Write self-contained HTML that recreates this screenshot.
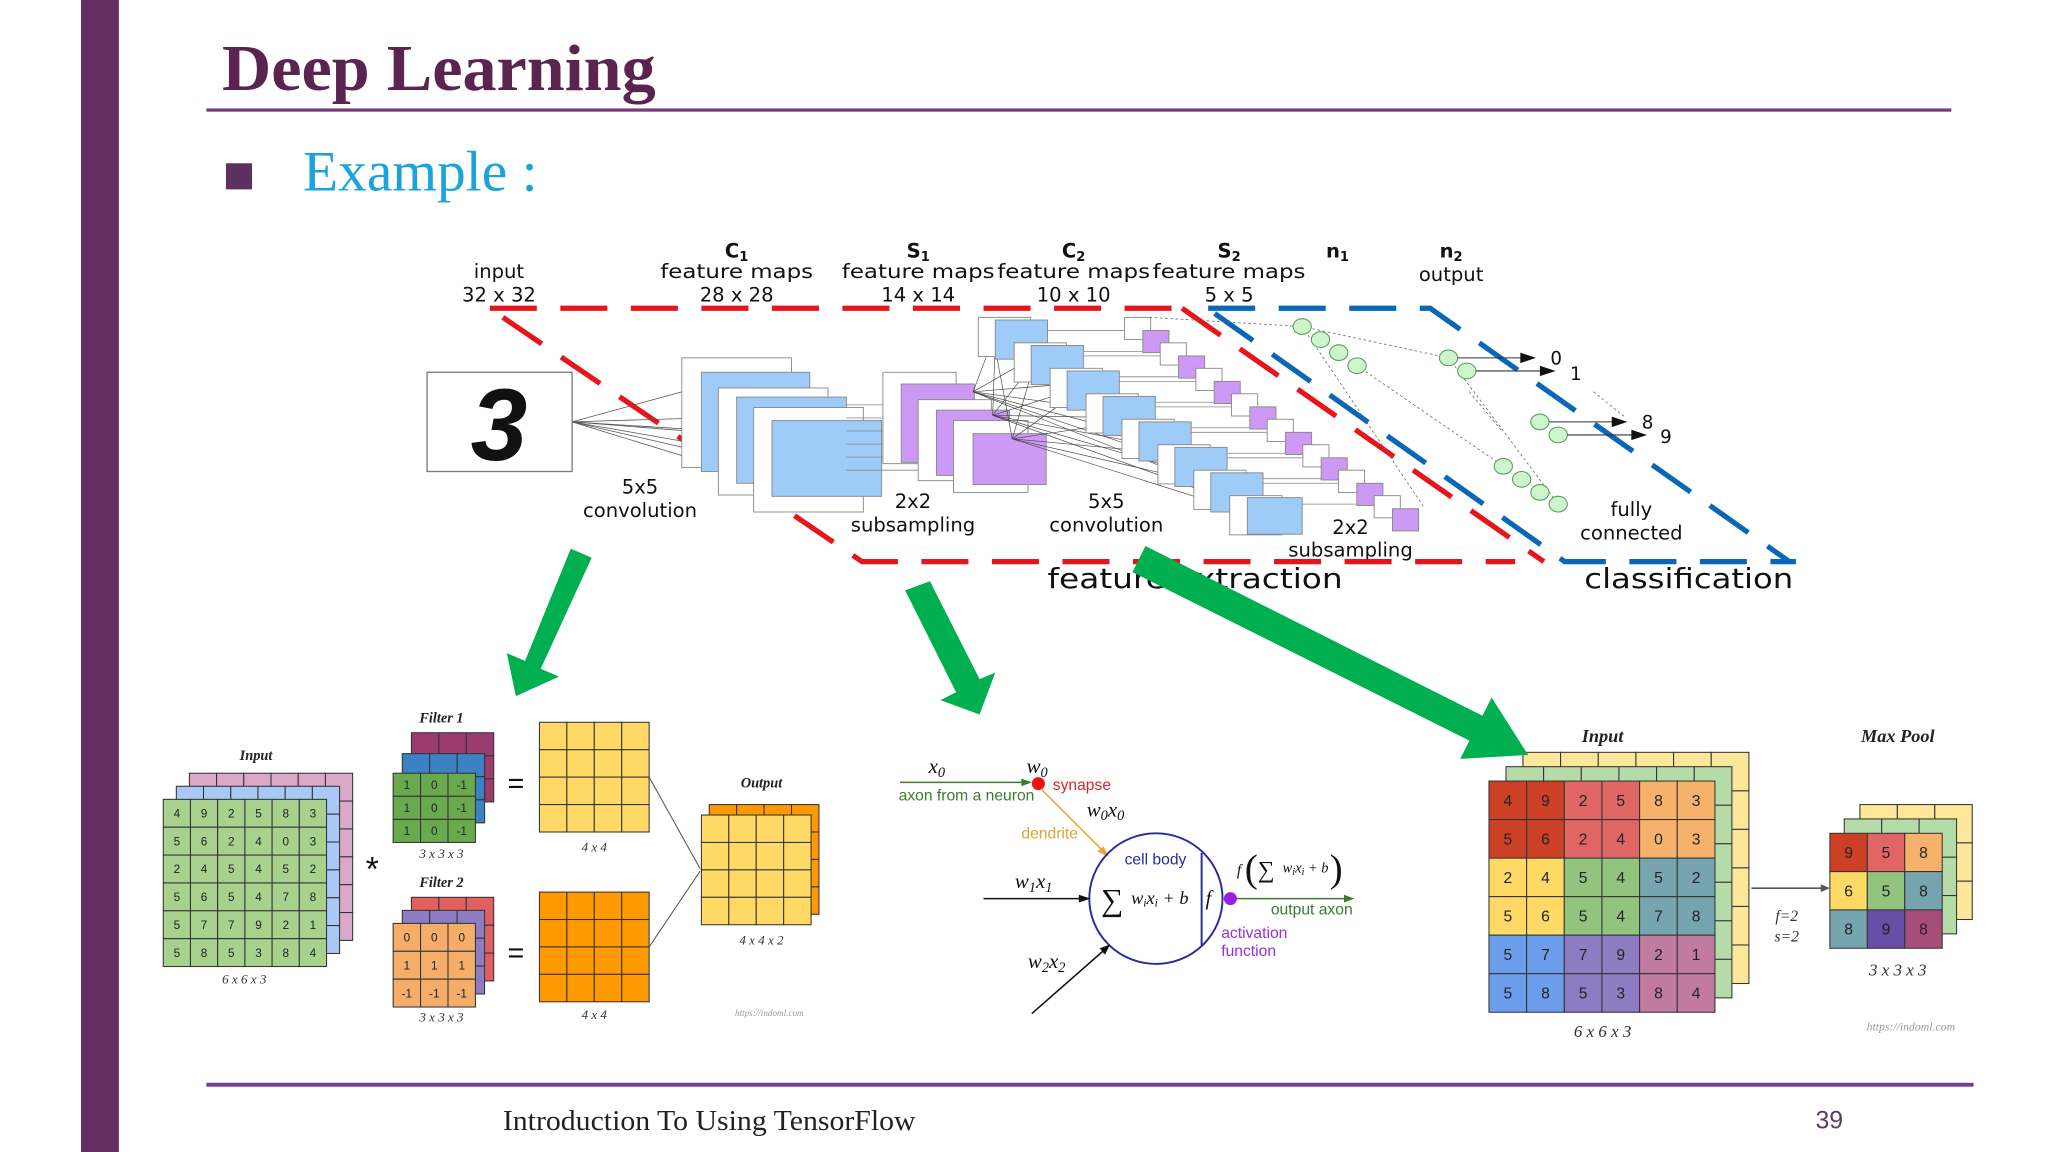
<!DOCTYPE html>
<html><head><meta charset="utf-8"><style>
html,body{margin:0;padding:0;background:#fff;width:2048px;height:1152px;overflow:hidden}
svg{display:block}
.s{font-family:"DejaVu Sans","Liberation Sans",sans-serif}
.it{font-family:"Liberation Serif",serif;font-style:italic}
.lb{font-family:"Liberation Sans",sans-serif}
</style></head><body>
<svg id="g" xmlns="http://www.w3.org/2000/svg" width="2048" height="1152" viewBox="0 0 1568 882">
<rect x="0" y="0" width="1568" height="882" fill="#fff"/>
<rect x="62" y="0" width="29" height="882" fill="#632e62"/>
<text x="170" y="69" font-family="Liberation Serif,serif" font-weight="bold" font-size="50" fill="#5a2350" textLength="332" lengthAdjust="spacingAndGlyphs">Deep Learning</text>
<rect x="158" y="83" width="1336" height="2.5" fill="#7b3a7a"/>
<rect x="173" y="125" width="20" height="20" fill="#5e3060"/>
<text x="232" y="146" font-family="Liberation Serif,serif" font-size="44" fill="#1aa3dc">Example :</text>
<rect x="158" y="829" width="1353" height="3" fill="#7a3a98"/>
<text x="385" y="865" font-family="Liberation Serif,serif" font-size="22" fill="#222" textLength="316" lengthAdjust="spacingAndGlyphs">Introduction To Using TensorFlow</text>
<text x="1390" y="864" font-family="Liberation Sans,sans-serif" font-size="19" fill="#5b3a6a">39</text>

<!-- CNN labels -->
<g class="s" font-size="15" fill="#111" text-anchor="middle">
<text x="382" y="213">input</text><text x="382" y="231">32 x 32</text>
<text x="564" y="197" font-weight="bold">C<tspan font-size="10" dy="3">1</tspan></text><text x="564" y="213" textLength="117" lengthAdjust="spacingAndGlyphs">feature maps</text><text x="564" y="231">28 x 28</text>
<text x="703" y="197" font-weight="bold">S<tspan font-size="10" dy="3">1</tspan></text><text x="703" y="213" textLength="117" lengthAdjust="spacingAndGlyphs">feature maps</text><text x="703" y="231">14 x 14</text>
<text x="822" y="197" font-weight="bold">C<tspan font-size="10" dy="3">2</tspan></text><text x="822" y="213" textLength="117" lengthAdjust="spacingAndGlyphs">feature maps</text><text x="822" y="231">10 x 10</text>
<text x="941" y="197" font-weight="bold">S<tspan font-size="10" dy="3">2</tspan></text><text x="941" y="213" textLength="117" lengthAdjust="spacingAndGlyphs">feature maps</text><text x="941" y="231">5 x 5</text>
<text x="1024" y="197" font-weight="bold">n<tspan font-size="10" dy="3">1</tspan></text>
<text x="1111" y="197" font-weight="bold">n<tspan font-size="10" dy="3">2</tspan></text><text x="1111" y="215">output</text>
<text x="490" y="378">5x5</text><text x="490" y="396">convolution</text>
<text x="699" y="389">2x2</text><text x="699" y="407">subsampling</text>
<text x="847" y="389">5x5</text><text x="847" y="407">convolution</text>
<text x="1034" y="409">2x2</text><text x="1034" y="426">subsampling</text>
<text x="1249" y="395">fully</text><text x="1249" y="413">connected</text>
<text x="915" y="450" font-size="21" textLength="226" lengthAdjust="spacingAndGlyphs">feature extraction</text>
<text x="1293" y="450" font-size="21" textLength="160" lengthAdjust="spacingAndGlyphs">classification</text>
</g>

<!-- dashed frames -->
<g fill="none" stroke-width="4" stroke-dasharray="36,18">
<path d="M375 236 H905" stroke="#e8141c"/>
<path d="M385 243 L660 430 H1160" stroke="#e8141c"/>
<path d="M905 236 L1182 430" stroke="#e8141c"/>
<path d="M925 236 H1095 L1370 430" stroke="#0a66b8"/>
<path d="M930 240 L1198 430 H1375" stroke="#0a66b8"/>
</g>

<!-- input 3 -->
<rect x="327" y="285" width="111" height="76" fill="#fff" stroke="#777"/>
<text x="382" y="352" text-anchor="middle" font-family="Liberation Sans,sans-serif" font-weight="bold" font-style="italic" font-size="78" fill="#111">3</text>
<g id="cnn"></g>
<g id="grids"></g>

<!-- green arrows -->
<g fill="#00b050">
<polygon points="437,420 453,427 414,512 428,518 395,533 388,500 402,506"/>
<polygon points="693,452 712,445 750,520 762,515 750,547 720,536 732,530"/>
<polygon points="867,438 1125,567 1118,581 1170,578 1142,534 1135,548 877,418"/>
</g>

<!-- neuron -->
<g>
<line x1="689" y1="599" x2="786" y2="599" stroke="#3c7a2e" stroke-width="1.2"/>
<polygon points="790,599 782,596 782,602" fill="#3c7a2e"/>
<circle cx="795" cy="600" r="5" fill="#e11"/>
<line x1="797" y1="604" x2="846" y2="653" stroke="#e9a93a" stroke-width="1.2"/>
<polygon points="849,656 840,652 845,648" fill="#e9a93a"/>
<ellipse cx="885" cy="688" rx="51" ry="50" fill="none" stroke="#2b2b9c" stroke-width="1.5"/>
<line x1="920" y1="653" x2="920" y2="724" stroke="#2b2b9c" stroke-width="1.5"/>
<line x1="753" y1="688" x2="830" y2="688" stroke="#111" stroke-width="1.2"/>
<polygon points="835,688 826,685 826,691" fill="#111"/>
<line x1="790" y1="776" x2="847" y2="726" stroke="#111" stroke-width="1.2"/>
<polygon points="850,723 842,726 846,731" fill="#111"/>
<circle cx="942" cy="688" r="5" fill="#9b1fe0"/>
<line x1="947" y1="688" x2="1032" y2="688" stroke="#3c7a2e" stroke-width="1.2"/>
<polygon points="1037,688 1029,685 1029,691" fill="#3c7a2e"/>
<g class="it" font-size="16" fill="#111">
<text x="711" y="592">x<tspan font-size="11" dy="3">0</tspan></text>
<text x="786" y="592">w<tspan font-size="11" dy="3">0</tspan></text>
<text x="832" y="625">w<tspan font-size="11" dy="3">0</tspan><tspan dy="-3">x</tspan><tspan font-size="11" dy="3">0</tspan></text>
<text x="777" y="680">w<tspan font-size="11" dy="3">1</tspan><tspan dy="-3">x</tspan><tspan font-size="11" dy="3">1</tspan></text>
<text x="787" y="741">w<tspan font-size="11" dy="3">2</tspan><tspan dy="-3">x</tspan><tspan font-size="11" dy="3">2</tspan></text>
<text x="843" y="697" font-style="normal" font-size="24">∑</text>
<text x="866" y="692" font-size="14">w<tspan font-size="9" dy="2">i</tspan><tspan dy="-2">x</tspan><tspan font-size="9" dy="2">i</tspan><tspan dy="-2"> + b</tspan></text>
<text x="923" y="693" font-size="16">f</text>
<text x="947" y="670" font-size="12">f</text>
<text x="953" y="675" font-style="normal" font-size="30" fill="#111">(</text>
<text x="963" y="672" font-style="normal" font-size="18">∑</text>
<text x="982" y="668" font-size="11">w<tspan font-size="8" dy="2">i</tspan><tspan dy="-2">x</tspan><tspan font-size="8" dy="2">i</tspan><tspan dy="-2"> + b</tspan></text>
<text x="1018" y="675" font-style="normal" font-size="30">)</text>
</g>
<g class="lb" font-size="12">
<text x="688" y="613" fill="#3c7a2e">axon from a neuron</text>
<text x="806" y="605" fill="#d22">synapse</text>
<text x="782" y="642" fill="#e1a23a">dendrite</text>
<text x="861" y="662" fill="#2b2b9c">cell body</text>
<text x="973" y="700" fill="#3c7a2e">output axon</text>
<text x="935" y="718" fill="#9b30d0">activation</text>
<text x="935" y="732" fill="#9b30d0">function</text>
</g>
</g>

<!-- labels of bottom grids -->
<g class="it" font-weight="bold" font-size="11" fill="#222" text-anchor="middle">
<text x="196" y="582">Input</text><text x="338" y="553">Filter 1</text><text x="338" y="679">Filter 2</text><text x="583" y="603">Output</text>
<text x="1227" y="568" font-size="14">Input</text><text x="1453" y="568" font-size="14">Max Pool</text>
</g>
<g class="it" font-size="10" fill="#333" text-anchor="middle">
<text x="187" y="753">6 x 6 x 3</text><text x="338" y="657">3 x 3 x 3</text><text x="338" y="782">3 x 3 x 3</text>
<text x="455" y="652">4 x 4</text><text x="455" y="780">4 x 4</text><text x="583" y="723">4 x 4 x 2</text>
<text x="589" y="778" font-size="7" fill="#999">https://indoml.com</text>
<text x="1227" y="794" font-size="13">6 x 6 x 3</text><text x="1453" y="747" font-size="13">3 x 3 x 3</text>
<text x="1463" y="789" font-size="9" fill="#999">https://indoml.com</text>
<text x="1368" y="705" font-size="12">f=2</text><text x="1368" y="721" font-size="12">s=2</text>
</g>
<text x="285" y="674" text-anchor="middle" font-family="Liberation Sans,sans-serif" font-size="26" fill="#111">*</text>
<text x="395" y="607" text-anchor="middle" font-family="Liberation Sans,sans-serif" font-size="22" fill="#111">=</text>
<text x="395" y="737" text-anchor="middle" font-family="Liberation Sans,sans-serif" font-size="22" fill="#111">=</text>
<line x1="497" y1="595" x2="536" y2="665" stroke="#555" stroke-width="0.8"/>
<line x1="497" y1="725" x2="536" y2="667" stroke="#555" stroke-width="0.8"/>
<line x1="1341" y1="680" x2="1396" y2="680" stroke="#555" stroke-width="1.2"/>
<polygon points="1401,680 1394,677 1394,683" fill="#555"/>
</svg>
<script>
var NS="http://www.w3.org/2000/svg";
function el(p,t,a,txt){var e=document.createElementNS(NS,t);for(var k in a)e.setAttribute(k,a[k]);if(txt!==undefined)e.textContent=txt;p.appendChild(e);return e;}
var C=document.getElementById('cnn'),G=document.getElementById('grids');
[[522,300],[537,320],[550,330],[564,345],[577,355],[591,370],[591,335]].forEach(function(p){el(C,'line',{x1:438,y1:323,x2:p[0],y2:p[1],stroke:'#555','stroke-width':0.6});});
[[522,274,84,84,'#fff'],[537,285,83,76,'#9fcbf8'],[550,297,84,82,'#fff'],[564,304,84,66,'#9fcbf8'],[577,312,84,80,'#fff'],[591,322,84,58,'#9fcbf8']].forEach(function(r){el(C,'rect',{x:r[0],y:r[1],width:r[2],height:r[3],fill:r[4],stroke:'#888','stroke-width':0.7});});
for(var i=0;i<6;i++){el(C,'line',{x1:648,y1:310+i*10,x2:745,y2:310+i*10,stroke:'#888','stroke-width':0.6});}
[[676,285,56,70,'#fff'],[690,294,56,60,'#cc99f5'],[703,306,56,62,'#fff'],[717,314,56,50,'#cc99f5'],[730,322,57,55,'#fff'],[745,332,56,39,'#cc99f5']].forEach(function(r){el(C,'rect',{x:r[0],y:r[1],width:r[2],height:r[3],fill:r[4],stroke:'#888','stroke-width':0.7});});
for(var k=0;k<7;k++){
 var bx=762+k*27.5, by=245+k*19.5;
 for(var j=0;j<3;j++){el(C,'line',{x1:745+j*15,y1:300+j*18,x2:bx,y2:by+10+j*6,stroke:'#444','stroke-width':0.5});}
 el(C,'line',{x1:bx,y1:by+8,x2:bx+110,y2:by+8,stroke:'#888','stroke-width':0.6});
 el(C,'line',{x1:bx,y1:by+24,x2:bx+125,y2:by+24,stroke:'#888','stroke-width':0.6});
}
for(var k=0;k<8;k++){
 var wx=749+k*27.5, wy=243+k*19.5;
 el(C,'rect',{x:wx,y:wy,width:40,height:30,fill:'#fff',stroke:'#888','stroke-width':0.7});
 if(k<7){el(C,'rect',{x:wx+13,y:wy+2,width:40,height:30,fill:'#9fcbf8',stroke:'#888','stroke-width':0.7});}
}
el(C,'rect',{x:955,y:381,width:42,height:28,fill:'#9fcbf8',stroke:'#888','stroke-width':0.7});
for(var k=0;k<8;k++){
 var px=861+k*27.3, py=243+k*19.5;
 el(C,'rect',{x:px,y:py,width:20,height:17,fill:'#fff',stroke:'#888','stroke-width':0.7});
 el(C,'rect',{x:px+14,y:py+10,width:20,height:17,fill:'#cc99f5',stroke:'#888','stroke-width':0.7});
}
[[880,243,997,250],[997,250,1109,274],[997,250,1090,388],[1039,280,1151,357],[1109,274,1193,386],[1125,300,1150,330],[1220,300,1245,320]].forEach(function(l){el(C,'line',{x1:l[0],y1:l[1],x2:l[2],y2:l[3],stroke:'#666','stroke-width':0.6,'stroke-dasharray':'2,2'});});
[[997,250],[1011,260],[1025,270],[1039,280],[1151,357],[1165,367],[1179,377],[1193,386],[1109,274],[1123,284],[1179,323],[1193,333]].forEach(function(c){el(C,'ellipse',{cx:c[0],cy:c[1],rx:7,ry:6,fill:'#ccf5cc',stroke:'#5a9a5a','stroke-width':0.8});});
[[1116,274,1176,'0',1187,279],[1130,284,1191,'1',1202,291],[1186,323,1246,'8',1257,328],[1200,333,1261,'9',1271,339]].forEach(function(a){
 el(C,'line',{x1:a[0],y1:a[1],x2:a[2]-6,y2:a[1],stroke:'#333','stroke-width':0.8});
 el(C,'polygon',{points:(a[2])+','+a[1]+' '+(a[2]-12)+','+(a[1]-4)+' '+(a[2]-12)+','+(a[1]+4),fill:'#111'});
 el(C,'text',{x:a[4],y:a[5],'font-size':14,'font-family':'DejaVu Sans,sans-serif',fill:'#111'},a[3]);
});
function grid(x,y,w,h,n,m,fill,vals,fs,stroke){
 var cw=w/m,ch=h/n;
 for(var r=0;r<n;r++)for(var c=0;c<m;c++){
  var f=typeof fill==='function'?fill(r,c):fill;
  el(G,'rect',{x:x+c*cw,y:y+r*ch,width:cw,height:ch,fill:f,stroke:stroke||'#333','stroke-width':0.8});
  if(vals){el(G,'text',{x:x+c*cw+cw/2,y:y+r*ch+ch/2+fs*0.36,'text-anchor':'middle','font-size':fs,'font-family':'Liberation Sans,sans-serif',fill:'#222'},vals[r][c]);}
 }
}
var V=[[4,9,2,5,8,3],[5,6,2,4,0,3],[2,4,5,4,5,2],[5,6,5,4,7,8],[5,7,7,9,2,1],[5,8,5,3,8,4]];
grid(145,592,125,128,6,6,'#d9a9c7');grid(135,602,125,128,6,6,'#a9c8f5');
grid(125,612,125,128,6,6,'#a9d18e',V,9);
grid(315,561,63,53,3,3,'#9b3b6e');grid(308,577,63,53,3,3,'#3b82c4');
grid(301,592,63,53,3,3,'#6aaa4e',[[1,0,-1],[1,0,-1],[1,0,-1]],9);
grid(315,687,63,64,3,3,'#e06060');grid(308,697,63,64,3,3,'#8e7cc3');
grid(301,707,63,64,3,3,'#f4ae6a',[[0,0,0],[1,1,1],[-1,-1,-1]],9);
grid(413,553,84,84,4,4,'#ffd966');grid(413,683,84,84,4,4,'#ff9900');
grid(543,616,84,84,4,4,'#ff9900');grid(537,624,84,84,4,4,'#ffd966');
grid(1166,576,173,177,6,6,'#fde79a');grid(1153,587,173,177,6,6,'#b5dca8');
var Q=[['#cc4125','#e06666','#f6b26b'],['#ffd966','#93c47d','#76a5af'],['#6d9eeb','#8e7cc3','#c27ba0']];
grid(1140,598,173,177,6,6,function(r,c){return Q[Math.floor(r/2)][Math.floor(c/2)];},V,12);
grid(1424,616,86,88,3,3,'#fde79a');grid(1412,627,86,88,3,3,'#b5dca8');
var Q2=[['#cc4125','#e06666','#f6b26b'],['#ffd966','#93c47d','#76a5af'],['#76a5af','#674ea7','#a64d79']];
grid(1401,638,86,88,3,3,function(r,c){return Q2[r][c];},[[9,5,8],[6,5,8],[8,9,8]],12);
</script>
</body></html>
